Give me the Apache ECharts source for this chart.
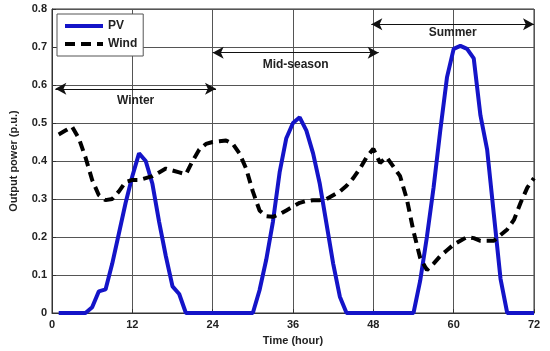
<!DOCTYPE html>
<html>
<head>
<meta charset="utf-8">
<script src="https://cdn.jsdelivr.net/npm/echarts@6/dist/echarts.min.js"></script>
<style>
html,body{margin:0;padding:0;background:#fff;}
#chart{width:550px;height:351px;}
</style>
</head>
<body>
<div id="chart"></div>
<script>
// Hours 1..72
var hours = [];
for (var i = 1; i <= 72; i++) hours.push(i);

var pvValues = [
  0, 0, 0, 0, 0, 0.015, 0.057, 0.062, 0.13, 0.21, 0.29, 0.36,
  0.42, 0.40, 0.34, 0.24, 0.15, 0.07, 0.05, 0, 0, 0, 0, 0,
  0, 0, 0, 0, 0, 0, 0.06, 0.14, 0.24, 0.37, 0.46, 0.50,
  0.515, 0.48, 0.42, 0.34, 0.235, 0.13, 0.043, 0, 0, 0, 0, 0,
  0, 0, 0, 0, 0, 0, 0.085, 0.20, 0.33, 0.48, 0.62, 0.695,
  0.703, 0.695, 0.67, 0.52, 0.43, 0.26, 0.09, 0, 0, 0, 0, 0
];

var windValues = [
  0.47, 0.48, 0.49, 0.46, 0.41, 0.35, 0.31, 0.297, 0.30, 0.32, 0.345, 0.35,
  0.35, 0.355, 0.36, 0.37, 0.38, 0.375, 0.37, 0.365, 0.40, 0.43, 0.445, 0.45,
  0.452, 0.454, 0.445, 0.42, 0.38, 0.32, 0.27, 0.255, 0.253, 0.26, 0.27, 0.28,
  0.29, 0.295, 0.297, 0.297, 0.30, 0.31, 0.32, 0.335, 0.355, 0.38, 0.41, 0.432,
  0.395, 0.41, 0.385, 0.36, 0.30, 0.215, 0.145, 0.113, 0.13, 0.15, 0.165, 0.18,
  0.19, 0.20, 0.197, 0.19, 0.19, 0.19, 0.205, 0.22, 0.245, 0.29, 0.33, 0.355
];

var xTicks = [0, 12, 24, 36, 48, 60, 72];

// Season annotations
var seasonNames = ['Winter', 'Mid-season', 'Summer'];
var seasonStart = [0.5, 24, 47.7];
var seasonEnd = [24.5, 48.8, 72];
var seasonLevel = [0.59, 0.685, 0.76];
var seasonLabelGap = [6, 6, 2];

function pairs(vals) {
  return hours.map(function (h, i) { return [h, vals[i]]; });
}

var font = '"Liberation Sans", Arial, sans-serif';

var arrowData = seasonNames.map(function (name, i) {
  return [
    { coord: [seasonStart[i], seasonLevel[i]], name: name, label: { distance: seasonLabelGap[i] } },
    { coord: [seasonEnd[i], seasonLevel[i]] }
  ];
});

var chart = echarts.init(document.getElementById('chart'), null, { renderer: 'canvas' });
chart.setOption({
  backgroundColor: '#fff',
  animation: false,
  grid: {
    left: 48, right: 16, top: 9, bottom: 38,
    show: true, borderColor: '#333', borderWidth: 1
  },
  legend: {
    left: 57, top: 14,
    orient: 'vertical',
    itemWidth: 38, itemHeight: 12, itemGap: 6,
    padding: [6, 6, 6, 6],
    borderColor: '#555', borderWidth: 1,
    backgroundColor: '#fff',
    itemStyle: { opacity: 0 },
    lineStyle: { width: 4 },
    textStyle: { fontFamily: font, fontWeight: 'bold', fontSize: 12, color: '#222' },
    data: ['PV', 'Wind']
  },
  xAxis: {
    type: 'value', min: 0, max: 72, interval: 12,
    name: 'Time (hour)', nameLocation: 'middle', nameGap: 22,
    nameTextStyle: { fontFamily: font, fontWeight: 'bold', fontSize: 11, color: '#222' },
    axisLine: { show: true, lineStyle: { color: '#333' } },
    axisTick: { show: true, inside: true, length: 4, lineStyle: { color: '#333' } },
    axisLabel: {
      fontFamily: font, fontWeight: 'bold', fontSize: 11, color: '#222', margin: 6,
      customValues: xTicks
    },
    splitLine: { show: true, lineStyle: { color: '#555', width: 1 } }
  },
  yAxis: {
    type: 'value', min: 0, max: 0.8, interval: 0.1,
    name: 'Output power (p.u.)', nameLocation: 'middle', nameGap: 33,
    nameTextStyle: { fontFamily: font, fontWeight: 'bold', fontSize: 11, color: '#222' },
    axisLine: { show: true, lineStyle: { color: '#333' } },
    axisTick: { show: true, inside: true, length: 4, lineStyle: { color: '#333' } },
    axisLabel: {
      fontFamily: font, fontWeight: 'bold', fontSize: 11, color: '#222', margin: 5,
      formatter: function (v) { return v === 0 ? '0' : String(Math.round(v * 10) / 10); }
    },
    splitLine: { show: true, lineStyle: { color: '#555', width: 1 } }
  },
  series: [
    {
      name: 'PV', type: 'line', symbol: 'none',
      data: pairs(pvValues),
      lineStyle: { color: '#1414c8', width: 4 },
      itemStyle: { color: '#1414c8' },
      z: 3
    },
    {
      name: 'Wind', type: 'line', symbol: 'none',
      data: pairs(windValues),
      lineStyle: { color: '#000', width: 4, type: [10, 6] },
      itemStyle: { color: '#000' },
      z: 4,
      markLine: {
        silent: true,
        symbol: ['arrow', 'arrow'],
        symbolSize: [9, 11],
        lineStyle: { color: '#111', width: 1, type: 'solid' },
        label: {
          show: true,
          position: 'insideMiddleBottom',
          distance: 6,
          formatter: function (p) { return p.name; },
          fontFamily: font, fontWeight: 'bold', fontSize: 12, color: '#222'
        },
        data: arrowData
      }
    }
  ]
});
</script>
</body>
</html>
